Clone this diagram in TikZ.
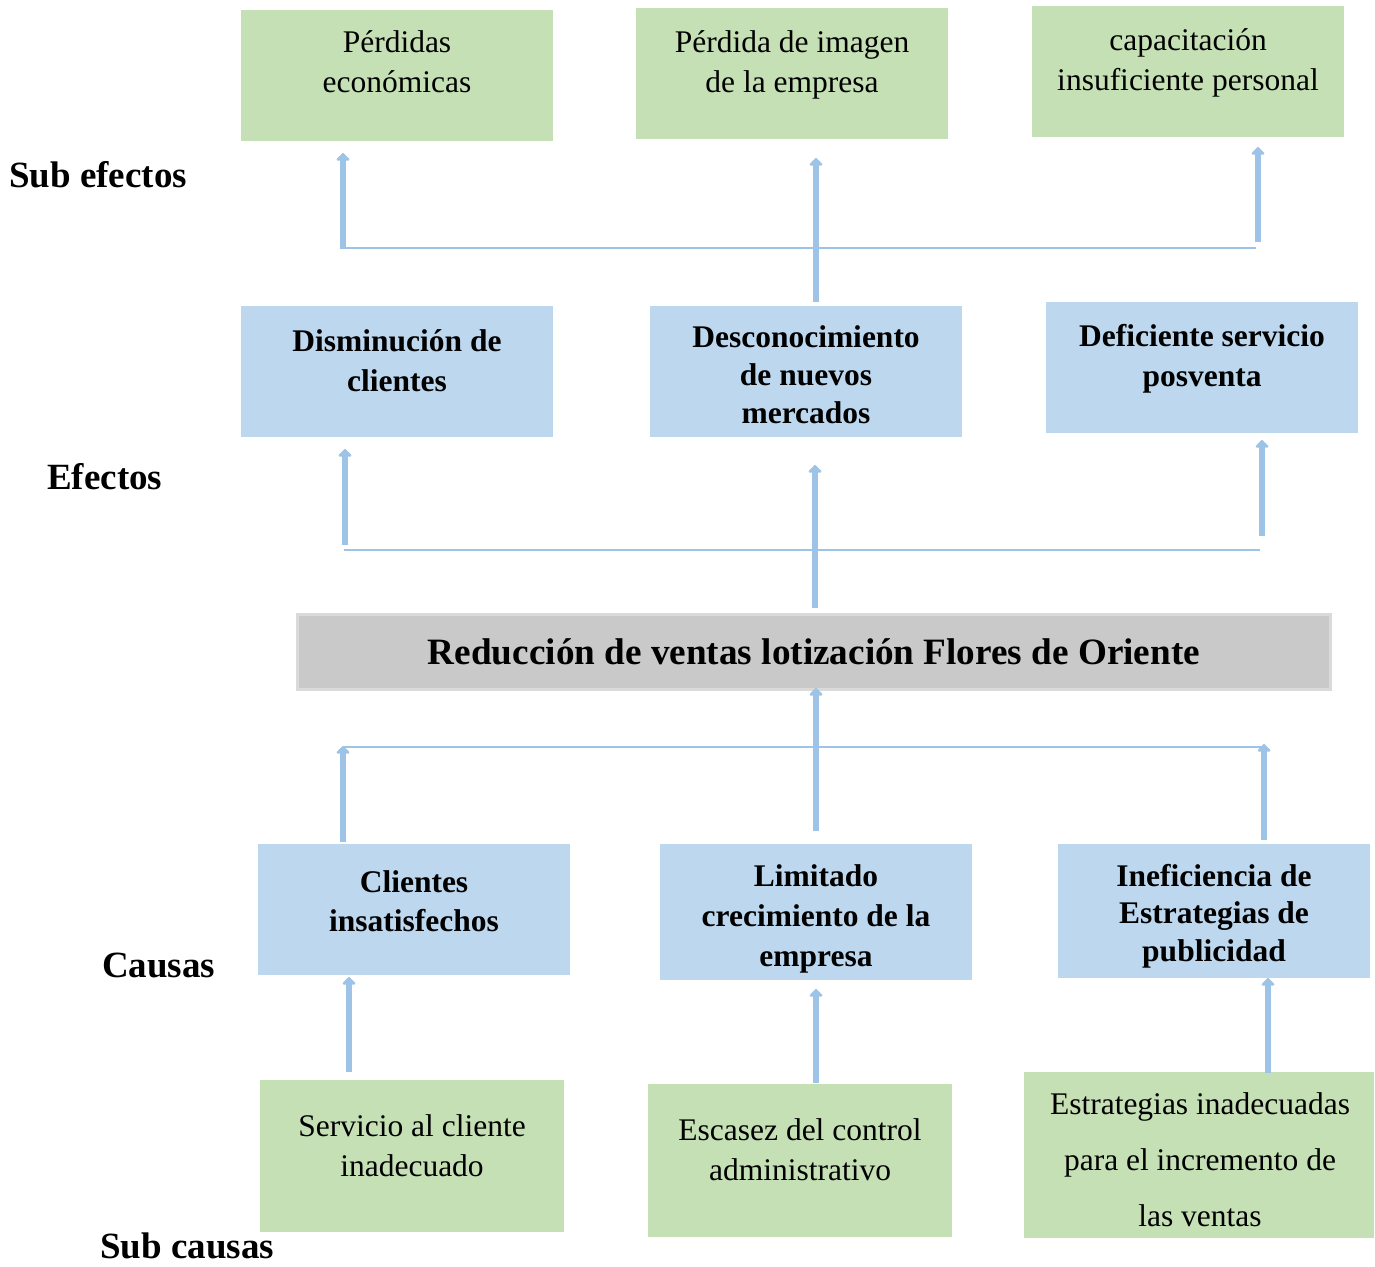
\documentclass[tikz,border=0pt]{standalone}
\usepackage{fontspec}
\setmainfont{Liberation Serif}
\usetikzlibrary{arrows.meta}
\definecolor{gbox}{HTML}{C5E0B4}
\definecolor{bbox}{HTML}{BDD7EE}
\definecolor{graybox}{HTML}{C9C9C9}
\definecolor{grayline}{HTML}{DADADA}
\definecolor{arrblue}{HTML}{9DC3E6}
\tikzset{
  greenbox/.style={fill=gbox, draw=none, inner sep=0pt},
  bluebox/.style={fill=bbox, draw=none, inner sep=0pt},
  txt/.style={align=center, inner sep=0pt, font=\fontsize{31.5}{40}\selectfont},
  btxt/.style={align=center, inner sep=0pt, font=\fontsize{31.5}{40}\selectfont\bfseries},
  lbl/.style={anchor=west, inner sep=0pt, font=\fontsize{37}{44}\selectfont\bfseries},
  arr/.style={draw=arrblue, line width=6.5pt, -{Triangle[width=15pt,length=8pt,round]}},
  hline/.style={draw=arrblue, line width=1.5pt},
}
\begin{document}
\begin{tikzpicture}[x=1pt,y=-1pt]
\useasboundingbox (0,0) rectangle (1375,1266);
% ---------- Sub efectos
\node[greenbox, minimum width=312pt, minimum height=131pt] (A) at (397,75.5) {};
\node[txt] (At) at (397,62) {Pérdidas\\económicas};
\node[greenbox, minimum width=312pt, minimum height=131pt] (B) at (792,73.5) {};
\node[txt] (Bt) at (792,65) {Pérdida de imagen\\de la empresa};
\node[greenbox, minimum width=312pt, minimum height=131pt] (C) at (1188,71.5) {};
\node[txt] (Ct) at (1188,63) {capacitación\\insuficiente personal};
% ---------- Efectos
\node[bluebox, minimum width=312pt, minimum height=131pt] (D) at (397,371.5) {};
\node[btxt] (Dt) at (397,361) {Disminución de\\clientes};
\node[bluebox, minimum width=312pt, minimum height=131pt] (E) at (806,371.5) {};
\node[btxt, font=\fontsize{31.5}{38}\selectfont\bfseries] (Et) at (806,375) {Desconocimiento\\de nuevos\\mercados};
\node[bluebox, minimum width=312pt, minimum height=131pt] (F) at (1202,367.5) {};
\node[btxt] (Ft) at (1202,359) {Deficiente servicio\\posventa};
% ---------- Central problem
\node[fill=graybox, draw=grayline, line width=2.5pt, minimum width=1033pt, minimum height=75pt, inner sep=0pt,
      font=\fontsize{37.2}{44}\selectfont\bfseries] (P) at (814,652) {Reducción de ventas lotización Flores de Oriente};
% ---------- Causas
\node[bluebox, minimum width=312pt, minimum height=131pt] (G) at (414,909.5) {};
\node[btxt, font=\fontsize{31.5}{39}\selectfont\bfseries] (Gt) at (414,901) {Clientes\\insatisfechos};
\node[bluebox, minimum width=312pt, minimum height=136pt] (H) at (816,912) {};
\node[btxt] (Ht) at (816,919) {Limitado\\crecimiento de la\\empresa};
\node[bluebox, minimum width=312pt, minimum height=134pt] (I) at (1214,911) {};
\node[btxt, font=\fontsize{31.5}{37.5}\selectfont\bfseries] (It) at (1214,916) {Ineficiencia de\\Estrategias de\\publicidad};
% ---------- Sub causas
\node[greenbox, minimum width=304pt, minimum height=152pt] (J) at (412,1156) {};
\node[txt] (Jt) at (412,1146) {Servicio al cliente\\inadecuado};
\node[greenbox, minimum width=304pt, minimum height=153pt] (K) at (800,1160.5) {};
\node[txt] (Kt) at (800,1150) {Escasez del control\\administrativo};
\node[greenbox, minimum width=350pt, minimum height=166pt] (L) at (1199,1155) {};
\node[txt, font=\fontsize{31.5}{56}\selectfont] (Lt) at (1200,1160) {Estrategias inadecuadas\\para el incremento de\\las ventas};
% ---------- Side labels
\node[lbl] (l1) at (9,175) {Sub efectos};
\node[lbl] (l2) at (47,477) {Efectos};
\node[lbl] (l3) at (102,965) {Causas};
\node[lbl] (l4) at (100,1246) {Sub causas};
% ---------- Connector coordinates
% top tier
\coordinate (a1s) at (343,249); \coordinate (a1e) at (343,153);
\coordinate (a2s) at (816,302); \coordinate (a2e) at (816,158);
\coordinate (a3s) at (1258,242); \coordinate (a3e) at (1258,147);
\coordinate (h1l) at (341,248); \coordinate (h1r) at (1256,248);
% middle tier
\coordinate (b1s) at (345,545); \coordinate (b1e) at (345,449);
\coordinate (b2s) at (815,608); \coordinate (b2e) at (815,465);
\coordinate (b3s) at (1262,536); \coordinate (b3e) at (1262,440);
\coordinate (h2l) at (344,550); \coordinate (h2r) at (1260,550);
% lower tier
\coordinate (c1s) at (343,842); \coordinate (c1e) at (343,746);
\coordinate (c2s) at (816,831); \coordinate (c2e) at (816,688);
\coordinate (c3s) at (1264,840); \coordinate (c3e) at (1264,744);
\coordinate (h3l) at (344,747); \coordinate (h3r) at (1264,747);
% bottom tier
\coordinate (d1s) at (349,1072); \coordinate (d1e) at (349,977);
\coordinate (d2s) at (816,1083); \coordinate (d2e) at (816,989);
\coordinate (d3s) at (1268,1073); \coordinate (d3e) at (1268,978);
% ---------- Lines
\draw[hline] (h1l) -- (h1r);
\draw[hline] (h2l) -- (h2r);
\draw[hline] (h3l) -- (h3r);
\draw[arr] (a1s) -- (a1e);
\draw[arr] (a2s) -- (a2e);
\draw[arr] (a3s) -- (a3e);
\draw[arr] (b1s) -- (b1e);
\draw[arr] (b2s) -- (b2e);
\draw[arr] (b3s) -- (b3e);
\draw[arr] (c1s) -- (c1e);
\draw[arr] (c2s) -- (c2e);
\draw[arr] (c3s) -- (c3e);
\draw[arr] (d1s) -- (d1e);
\draw[arr] (d2s) -- (d2e);
\draw[arr] (d3s) -- (d3e);
\end{tikzpicture}
\end{document}
